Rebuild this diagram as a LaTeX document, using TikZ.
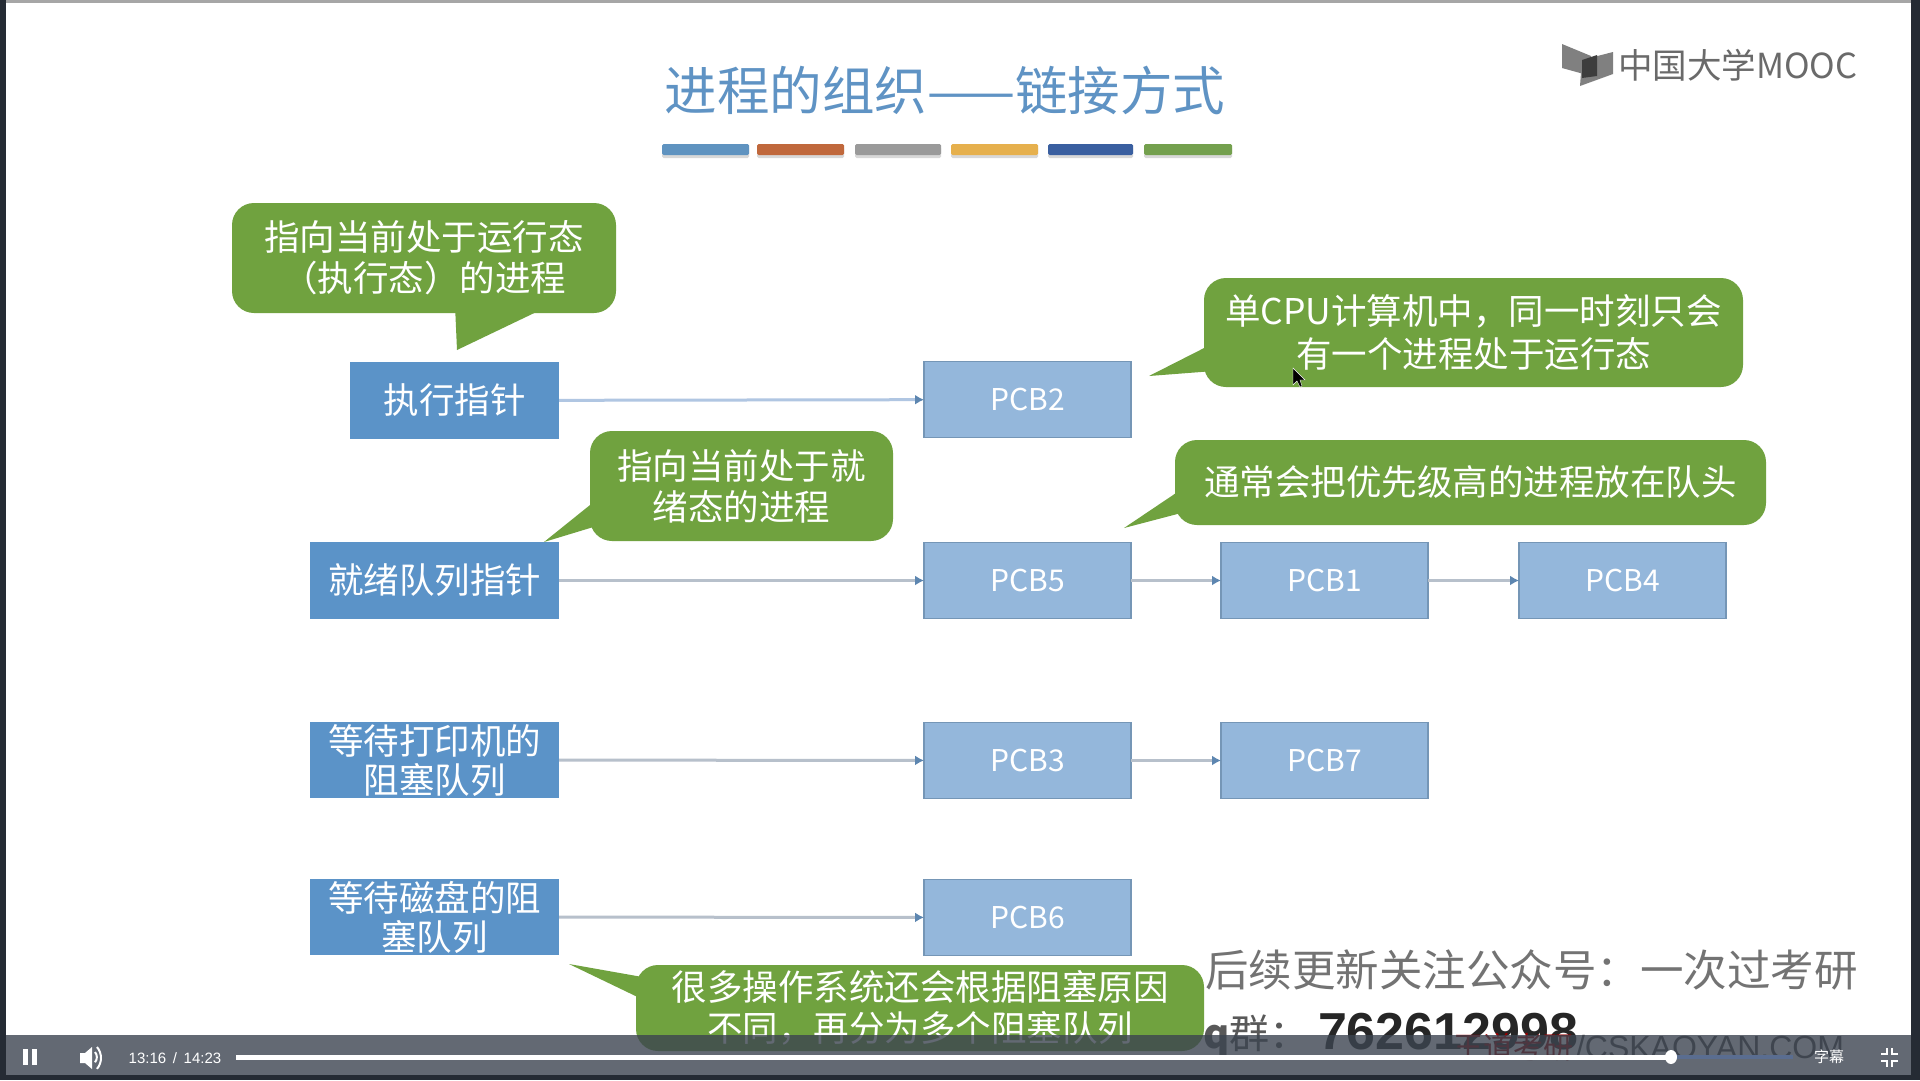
\documentclass[tikz,border=0pt]{standalone}
\usepackage{fontspec}
\setmainfont{Noto Sans CJK SC}
\newfontfamily\arialf{Liberation Sans}
\usetikzlibrary{arrows.meta}
\definecolor{leftblue}{HTML}{5B93C8}
\definecolor{pcbfill}{HTML}{94B7DB}
\definecolor{pcbedge}{HTML}{7596B6}
\definecolor{calloutg}{HTML}{70A23F}
\definecolor{titleblue}{HTML}{5F93C4}
\definecolor{linegray}{HTML}{B7C0CB}
\definecolor{linelight}{HTML}{B0C6E2}
\definecolor{tipblue}{HTML}{5D86B0}
\definecolor{barcol}{HTML}{3C4450}
\definecolor{framecol}{HTML}{252B34}
\definecolor{logogray}{HTML}{6A6A6A}
\definecolor{trackblue}{HTML}{5A6D90}
\tikzset{
  x=1pt,y=-1pt,
  leftbox/.style={fill=leftblue,text=white,inner sep=0pt,outer sep=0pt,align=center,
    font=\fontsize{35.5}{39}\selectfont},
  pcb/.style={fill=pcbfill,draw=pcbedge,line width=1.5pt,text=white,inner sep=0pt,outer sep=0pt,
    minimum width=207pt,minimum height=76pt,font=\fontsize{30}{36}\selectfont},
  callout/.style={fill=calloutg,rounded corners=22pt,text=white,inner sep=0pt,outer sep=0pt,align=center,
    font=\fontsize{35.5}{41}\selectfont},
  tailshape/.style={fill=calloutg,draw=none},
  link/.style={line width=3pt,color=linegray,-{Latex[length=9pt,width=10pt,color=tipblue]}},
  toplink/.style={link,color=linelight},
  colbar/.style={rounded corners=1.5pt,draw=none},
  wm/.style={text=#1,inner sep=0pt,outer sep=0pt,anchor=west},
  uilabel/.style={text=white,inner sep=0pt,outer sep=0pt},
}
\begin{document}
\begin{tikzpicture}
\useasboundingbox (0,0) rectangle (1920,1080);
\fill[white] (0,0) rectangle (1920,1080);
% title
\node[text=titleblue,inner sep=0pt,font=\fontsize{52.5}{60}\selectfont] (title) at (945,90) {进程的组织——链接方式};
\foreach \a/\b/\c in {662/749/5F93C0,757/844/C0683C,855/941/9A9A9A,951/1038/E6B04D,1048/1133/3A5FA0,1144/1232/74A04E}{
  \definecolor{tmpc}{HTML}{\c}
  \fill[black!30,opacity=.5,colbar] (\a,147) rectangle (\b,158);
  \fill[tmpc,colbar] (\a,144) rectangle (\b,155);
}
% logo
\fill[logogray!85] (1562,44) -- (1591,56) -- (1591,76) -- (1562,68) -- cycle;
\fill[logogray!85] (1582,60) -- (1613,52) -- (1613,74) -- (1580,86) -- cycle;
\fill[logogray!130] (1582,60) -- (1597,55) -- (1597,76) -- (1582,78) -- cycle;
\node[text=logogray,inner sep=0pt,anchor=west,font=\fontsize{34.5}{40}\selectfont] (logo) at (1618,65) {中国大学MOOC};
% left boxes
\node[leftbox,minimum width=209pt,minimum height=77pt] (run) at (454.5,400.5) {执行指针};
\node[leftbox,minimum width=249pt,minimum height=77pt] (ready) at (434.5,580.5) {就绪队列指针};
\node[leftbox,minimum width=249pt,minimum height=76pt] (print) at (434.5,760) {等待打印机的\\阻塞队列};
\node[leftbox,minimum width=249pt,minimum height=76pt] (disk) at (434.5,917) {等待磁盘的阻\\塞队列};
% PCB
\node[pcb] (p2) at (1027.5,399.5) {PCB2};
\node[pcb] (p5) at (1027.5,580.5) {PCB5};
\node[pcb] (p1) at (1324.5,580.5) {PCB1};
\node[pcb] (p4) at (1622.5,580.5) {PCB4};
\node[pcb] (p3) at (1027.5,760.5) {PCB3};
\node[pcb] (p7) at (1324.5,760.5) {PCB7};
\node[pcb] (p6) at (1027.5,917.5) {PCB6};
% links
\draw[toplink] (run) -- (p2);
\draw[link] (ready) -- (p5);
\draw[link] (p5) -- (p1);
\draw[link] (p1) -- (p4);
\draw[link] (print) -- (p3);
\draw[link] (p3) -- (p7);
\draw[link] (disk) -- (p6);
% callouts
\fill[tailshape] (455,305) -- (457,350) -- (551,305) -- cycle;
\node[callout,minimum width=384pt,minimum height=110pt] (c1) at (424,258) {指向当前处于运行态\\（执行态）的进程};
\fill[tailshape] (600,497) -- (544,542) -- (600,525) -- cycle;
\node[callout,minimum width=303pt,minimum height=110pt] (c2) at (741.5,486) {指向当前处于就\\绪态的进程};
\fill[tailshape] (1214,343) -- (1149,376) -- (1214,371) -- cycle;
\node[callout,minimum width=539pt,minimum height=109pt,font=\fontsize{35.5}{43}\selectfont] (c3) at (1473.5,332.5) {单CPU计算机中，同一时刻只会\\有一个进程处于运行态};
\fill[tailshape] (1185,487) -- (1124,528) -- (1185,512) -- cycle;
\node[callout,minimum width=591pt,minimum height=85pt] (c4) at (1470.5,482.5) {通常会把优先级高的进程放在队头};
% watermark text
\node[wm=black!55,font=\fontsize{43.5}{50}\selectfont] (w1) at (1205,970) {后续更新关注公众号：一次过考研};
\fill[tailshape] (648,978) -- (569,964) -- (648,1002) -- cycle;
\node[callout,minimum width=568pt,minimum height=86pt] (c5) at (920,1008) {很多操作系统还会根据阻塞原因\\不同，再分为多个阻塞队列};
\node[wm=black!65,font=\fontsize{40}{46}\selectfont] (w2) at (1203,1036) {\textbf{q}群：};
\node[wm=black!85,font=\arialf\bfseries\fontsize{52}{56}\selectfont] (w3) at (1318,1032) {762612998};
\node[wm=red!60!black,font=\fontsize{30}{36}\selectfont] (w4) at (1453,1047) {王道考研};
\node[wm=black!70,font=\arialf\fontsize{32}{38}\selectfont] (w5) at (1576,1047) {/CSKAOYAN.COM};
% cursor
\fill[black,draw=white,line width=.4pt] (1293,368) -- (1293,385) -- (1297,381) -- (1300,387) -- (1302,386) -- (1300,380) -- (1305,380) -- cycle;
% frame
\fill[gray!70] (0,0) rectangle (1920,3);
\fill[framecol] (0,0) rectangle (6,1080);
\fill[framecol] (1911,0) rectangle (1920,1080);
\fill[framecol] (0,1075) rectangle (1920,1080);
% player bar
\fill[barcol,opacity=.8] (6,1035) rectangle (1911,1075);
\fill[white] (23,1049) rectangle (28,1065);
\fill[white] (32,1049) rectangle (37,1065);
\fill[white] (80,1053) -- (85,1053) -- (92,1047) -- (92,1069) -- (85,1063) -- (80,1063) -- cycle;
\draw[white,line width=2pt] (95,1052) arc (-40:40:8);
\draw[white,line width=2pt] (97,1047) arc (-40:40:17);
\node[uilabel,font=\arialf\fontsize{15}{18}\selectfont] (time) at (175,1058) {13:16\, /\, 14:23};
\coordinate (pstart) at (236,1057);
\coordinate (pknob) at (1671,1057);
\coordinate (pend) at (1793,1057);
\draw[line width=4pt,color=trackblue] (pknob) -- (pend);
\draw[white,line width=5pt] (pstart) -- (pknob);
\fill[white] (pknob) ellipse (6 and 7);
\node[uilabel,font=\fontsize{15}{18}\selectfont] (subs) at (1829,1057) {字幕};
\draw[white,line width=2.5pt] (1881,1054) -- (1887,1054) -- (1887,1048);
\draw[white,line width=2.5pt] (1898,1054) -- (1892,1054) -- (1892,1048);
\draw[white,line width=2.5pt] (1881,1061) -- (1887,1061) -- (1887,1067);
\draw[white,line width=2.5pt] (1898,1061) -- (1892,1061) -- (1892,1067);
\end{tikzpicture}
\end{document}
